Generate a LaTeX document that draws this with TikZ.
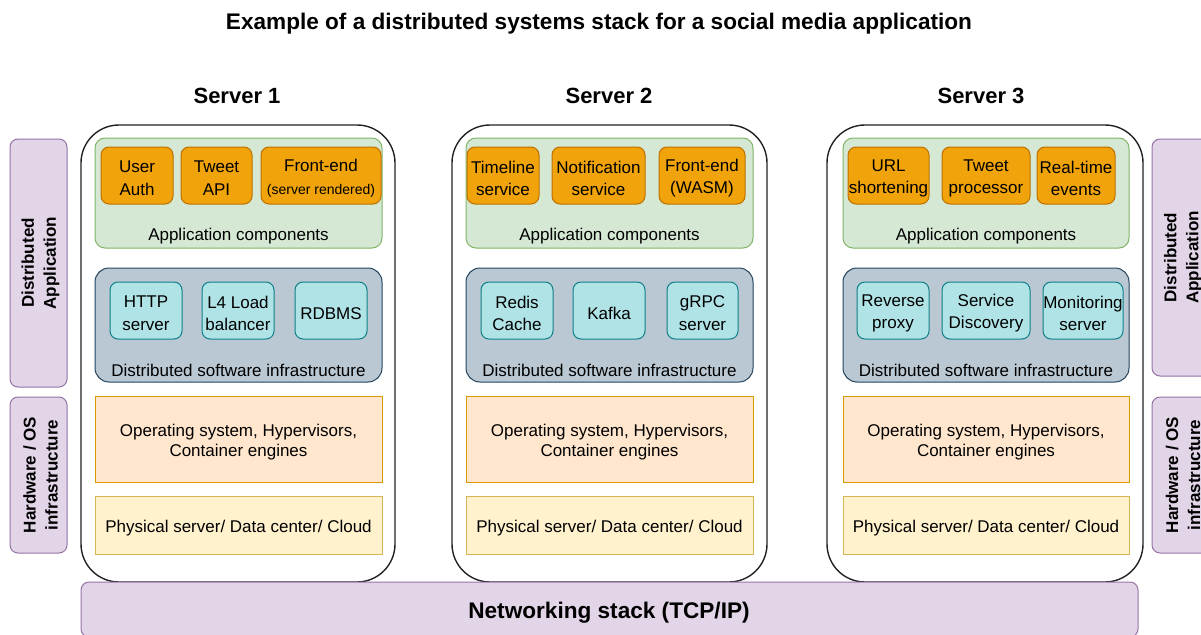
\documentclass[tikz,border=0pt]{standalone}
\usepackage{fontspec}
\setmainfont{Liberation Sans}
\definecolor{srvline}{HTML}{222222}
\definecolor{greenfill}{HTML}{D5E8D4}
\definecolor{greenline}{HTML}{82B366}
\definecolor{bluefill}{HTML}{BAC8D3}
\definecolor{blueline}{HTML}{23445D}
\definecolor{orangefill}{HTML}{F0A30A}
\definecolor{orangeline}{HTML}{BD7000}
\definecolor{tealfill}{HTML}{B0E3E6}
\definecolor{tealline}{HTML}{0E8088}
\definecolor{osfill}{HTML}{FFE6CC}
\definecolor{osline}{HTML}{D79B00}
\definecolor{hwfill}{HTML}{FFF2CC}
\definecolor{hwline}{HTML}{D6B656}
\definecolor{purplefill}{HTML}{E1D5E7}
\definecolor{purpleline}{HTML}{9673A6}
% empty shape
\newcommand\bxe[6]{\node[#6, minimum width=#4pt-#2pt, minimum height=#5pt-#3pt] (#1) at ({(#2+#4)/2},{(#3+#5)/2}) {};}
% shape with its text, text lowered slightly to sit like the reference
\newcommand\bx[7]{\bxe{#1}{#2}{#3}{#4}{#5}{#6}%
 \node[#6, draw=none, fill=none, minimum width=0pt, minimum height=0pt] (#1t) at ({(#2+#4)/2},{(#3+#5)/2+2.7}) {#7};}
\tikzset{
 base/.style={inner sep=0pt, outer sep=0pt, align=center, font=\fontsize{17}{22.5}\selectfont, text=black, line width=1pt},
 server/.style={base, draw=srvline, fill=white, rounded corners=38pt, line width=1.4pt},
 appc/.style={base, draw=greenline, fill=greenfill, rounded corners=10pt},
 infra/.style={base, draw=blueline, fill=bluefill, rounded corners=14pt},
 comp/.style={base, draw=orangeline, fill=orangefill, rounded corners=8pt},
 svc/.style={base, draw=tealline, fill=tealfill, rounded corners=8pt},
 osbox/.style={base, draw=osline, fill=osfill, font=\fontsize{17}{20}\selectfont},
 hwbox/.style={base, draw=hwline, fill=hwfill},
 side/.style={base, draw=purpleline, fill=purplefill, rounded corners=8pt},
 sidetext/.style={base, font=\fontsize{17}{22}\selectfont\bfseries, rotate=90},
 lbl/.style={base},
 heading/.style={base, font=\fontsize{22}{26}\selectfont\bfseries},
 title/.style={base, font=\fontsize{22.6}{26}\selectfont\bfseries},
}
\begin{document}
\begin{tikzpicture}[x=1pt,y=-1pt]
\useasboundingbox (0,0) rectangle (1201,634);
\clip (0,0) rectangle (1201,634);
\fill[white] (0,0) rectangle (1201,634);

\node[title] (title) at (599,24) {Example of a distributed systems stack for a social media application};

% servers
\bxe{s1}{81}{125}{395}{582}{server}
\bxe{s2}{452}{125}{767}{582}{server}
\bxe{s3}{827}{125}{1143}{582}{server}
\node[heading] (s1h) at (237,96) {Server 1};
\node[heading] (s2h) at (609,96) {Server 2};
\node[heading] (s3h) at (981,96) {Server 3};

% network
\bxe{net}{81}{582}{1138}{637}{side}
\node[title] (nettext) at (609,612.5) {Networking stack (TCP/IP)};

% side labels
\bxe{lda}{10}{139}{67}{387}{side}
\node[sidetext] (ldat) at ([xshift=2pt]lda.center) {Distributed\\Application};
\bxe{lhw}{10}{397}{67}{553}{side}
\node[sidetext] (lhwt) at ([xshift=2pt]lhw.center) {Hardware / OS\\infrastructure};
\bxe{rda}{1152}{139}{1210}{376}{side}
\node[sidetext] (rdat) at ([xshift=2pt]rda.center) {Distributed\\Application};
\bxe{rhw}{1152}{397}{1210}{553}{side}
\node[sidetext] (rhwt) at ([xshift=2pt]rhw.center) {Hardware / OS\\infrastructure};

% ---- Server 1
\bxe{a1}{95}{138}{382}{248}{appc}
\node[lbl] (a1l) at (238.5,236.5) {Application components};
\bx{c11}{101}{147}{173}{204}{comp}{User\\Auth}
\bx{c12}{181}{147}{252}{204}{comp}{Tweet\\API}
\bx{c13}{261}{147}{381}{204}{comp}{Front-end\\{\fontsize{14}{18}\selectfont(server rendered)}}
\bxe{i1}{95}{268}{382}{382}{infra}
\node[lbl] (i1l) at (238.5,370.5) {Distributed software infrastructure};
\bx{v11}{110}{282}{182}{339}{svc}{HTTP\\server}
\bx{v12}{202}{282}{274}{339}{svc}{L4 Load\\balancer}
\bx{v13}{295}{282}{367}{339}{svc}{RDBMS}
\bx{o1}{95}{396}{382}{482}{osbox}{Operating system, Hypervisors,\\Container engines}
\bx{h1}{95}{496}{382}{554}{hwbox}{Physical server/ Data center/ Cloud}

% ---- Server 2
\bxe{a2}{466}{138}{753}{248}{appc}
\node[lbl] (a2l) at (609.5,236.5) {Application components};
\bx{c21}{467}{147}{539}{204}{comp}{Timeline\\service}
\bx{c22}{552}{147}{645}{204}{comp}{Notification\\service}
\bx{c23}{659}{147}{745}{204}{comp}{Front-end\\(WASM)}
\bxe{i2}{466}{268}{753}{382}{infra}
\node[lbl] (i2l) at (609.5,370.5) {Distributed software infrastructure};
\bx{v21}{481}{282}{553}{339}{svc}{Redis\\Cache}
\bx{v22}{573}{282}{645}{339}{svc}{Kafka}
\bx{v23}{667}{282}{738}{339}{svc}{gRPC\\server}
\bx{o2}{466}{396}{753}{482}{osbox}{Operating system, Hypervisors,\\Container engines}
\bx{h2}{466}{496}{753}{554}{hwbox}{Physical server/ Data center/ Cloud}

% ---- Server 3
\bxe{a3}{843}{138}{1129}{248}{appc}
\node[lbl] (a3l) at (986,236.5) {Application components};
\bx{c31}{848}{147}{929}{204}{comp}{URL\\shortening}
\bx{c32}{942}{147}{1030}{204}{comp}{Tweet\\processor}
\bx{c33}{1037}{147}{1115}{204}{comp}{Real-time\\events}
\bxe{i3}{843}{268}{1129}{382}{infra}
\node[lbl] (i3l) at (986,370.5) {Distributed software infrastructure};
\bx{v31}{857}{282}{929}{339}{svc}{Reverse\\proxy}
\bx{v32}{942}{282}{1030}{339}{svc}{Service\\Discovery}
\bx{v33}{1043}{282}{1123}{339}{svc}{Monitoring\\server}
\bx{o3}{843}{396}{1129}{482}{osbox}{Operating system, Hypervisors,\\Container engines}
\bx{h3}{843}{496}{1129}{554}{hwbox}{Physical server/ Data center/ Cloud}
\end{tikzpicture}
\end{document}
